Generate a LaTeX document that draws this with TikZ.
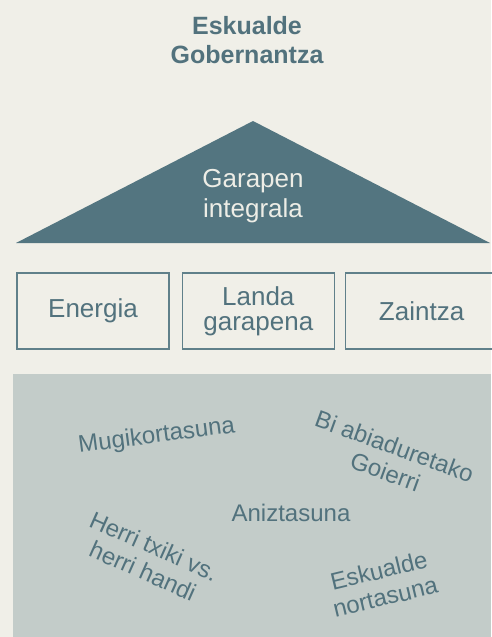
\documentclass[tikz,border=0pt]{standalone}
\usepackage{fontspec}
\setmainfont{Liberation Sans}
\usetikzlibrary{positioning}
\definecolor{bgcream}{HTML}{F0EFE8}
\definecolor{tealtext}{HTML}{52727D}
\definecolor{roofteal}{HTML}{537580}
\definecolor{rooftext}{HTML}{EDEDE6}
\definecolor{boxline}{HTML}{60808A}
\definecolor{basegray}{HTML}{C3CCC9}

\begin{document}
\begin{tikzpicture}[x=1pt, y=-1pt,
  node distance=12pt,
  headline/.style={font=\fontsize{25}{29}\bfseries\selectfont, text=tealtext,
                   align=center, inner sep=0pt},
  rooflabel/.style={font=\fontsize{26}{30}\selectfont, text=rooftext,
                    align=center, inner sep=0pt},
  pillar/.style={rectangle, draw=boxline, line width=1.3pt,
                 minimum width=152pt, minimum height=76pt, inner sep=0pt,
                 font=\fontsize{26}{25}\selectfont, text=tealtext, align=center},
  topic/.style={font=\fontsize{24}{27}\selectfont, text=tealtext,
                align=center, inner sep=0pt}
]
% Canvas
\fill[bgcream] (0,0) rectangle (491,637);
\useasboundingbox (0,0) rectangle (491,637);

% Title
\node[headline] (title) at (247,40.5) {Eskualde\\Gobernantza};

% Roof
\fill[roofteal] (16,243) -- (253,121) -- (490,243) -- cycle;
\node[rooflabel] (garapen) at (253,196) {Garapen\\integrala};

% Pillars
\node[pillar] (energia) at (93,311) {Energia};
\node[pillar, right=of energia] (landa) {Landa\\garapena};
\node[pillar, right=10pt of landa] (zaintza) {Zaintza};

% Base
\fill[basegray] (13,374) rectangle (491,637);
\node[topic, rotate=7.5] (mugi) at (156.7,436.5) {Mugikortasuna};
\node[topic, rotate=-20] (goierri) at (390,459) {Bi abiaduretako\\Goierri};
\node[topic] (aniz) at (291,513.4) {Aniztasuna};
\node[topic, rotate=-24] (herri) at (148.5,558.5) {Herri txiki vs.\\herri handi};
\node[topic, rotate=13.5] (nortasuna) at (382,583.7) {Eskualde\\nortasuna};
\end{tikzpicture}
\end{document}
